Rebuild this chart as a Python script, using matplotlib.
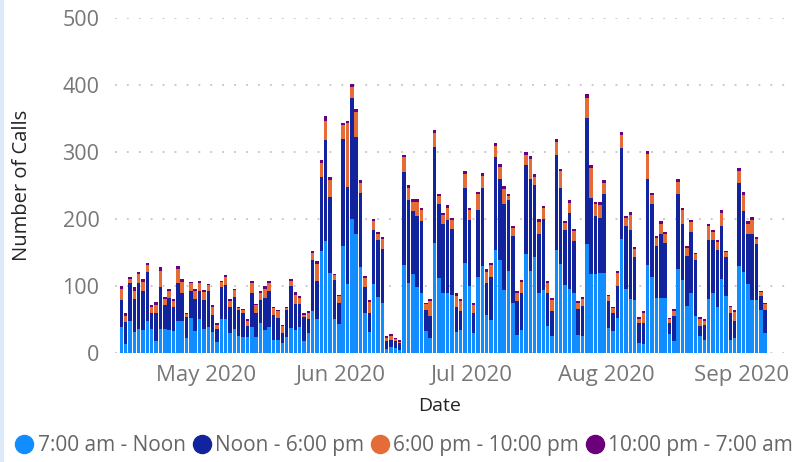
import matplotlib
matplotlib.use('Agg')
import matplotlib.pyplot as plt
import matplotlib.dates as mdates
from matplotlib.lines import Line2D
import numpy as np
import pandas as pd

plt.rcParams['font.family'] = ['Open Sans', 'DejaVu Sans']

# daily calls, 2020-04-11 .. 2020-09-06
start_date = '2020-04-11'
series_names = ['7:00 am - Noon', 'Noon - 6:00 pm', '6:00 pm - 10:00 pm', '10:00 pm - 7:00 am']
colors = ['#118DFF', '#12239E', '#E66C37', '#6B007B']

morning = [39, 13, 48, 31, 36, 34, 48, 36, 18, 36, 36, 34, 33, 48, 48, 22, 52, 33, 51, 36,
           39, 31, 16, 50, 50, 30, 36, 25, 24, 24, 39, 24, 45, 35, 39, 20, 19, 15, 24, 38,
           35, 39, 18, 30, 63, 50, 152, 167, 120, 50, 43, 160, 103, 200, 178, 128, 60, 32, 103, 84,
           75, 6, 9, 7, 5, 132, 105, 118, 99, 90, 33, 22, 164, 112, 89, 89, 87, 32, 34, 134,
           100, 30, 114, 130, 57, 49, 153, 139, 94, 122, 75, 27, 35, 148, 123, 144, 89, 94, 40, 25,
           153, 133, 102, 95, 89, 27, 25, 162, 118, 118, 119, 120, 38, 33, 52, 170, 95, 80, 79, 15,
           14, 132, 114, 82, 82, 82, 29, 18, 125, 109, 70, 90, 55, 25, 20, 80, 89, 69, 110, 85,
           20, 23, 130, 121, 103, 79, 79, 64, 30]
afternoon = [40, 33, 56, 49, 68, 58, 73, 24, 41, 62, 35, 48, 35, 57, 41, 32, 40, 47, 42, 43,
             54, 26, 20, 48, 52, 38, 47, 39, 36, 16, 50, 36, 34, 47, 54, 36, 33, 15, 40, 62,
             38, 34, 35, 20, 76, 57, 111, 151, 113, 59, 32, 160, 145, 180, 145, 111, 38, 27, 80, 84,
             80, 12, 10, 11, 10, 138, 124, 94, 105, 107, 31, 33, 144, 110, 103, 109, 98, 37, 28, 112,
             98, 29, 99, 116, 48, 65, 140, 121, 128, 106, 99, 50, 54, 133, 137, 106, 88, 106, 49, 38,
             143, 114, 82, 114, 78, 38, 45, 189, 114, 86, 83, 117, 39, 26, 48, 136, 94, 103, 65, 30,
             30, 128, 108, 77, 95, 82, 15, 37, 112, 83, 75, 90, 84, 15, 22, 88, 79, 84, 79, 59,
             39, 25, 124, 91, 75, 98, 83, 21, 34]
evening = [16, 9, 7, 13, 14, 14, 10, 9, 13, 25, 9, 10, 10, 21, 17, 4, 12, 12, 11, 12,
           8, 11, 6, 8, 12, 10, 11, 3, 4, 8, 16, 11, 11, 13, 11, 11, 10, 10, 3, 8,
           14, 9, 4, 10, 10, 26, 21, 29, 25, 7, 10, 21, 96, 17, 37, 15, 14, 17, 14, 9,
           15, 5, 7, 3, 2, 22, 18, 14, 21, 16, 9, 22, 21, 13, 14, 19, 13, 16, 16, 21,
           16, 13, 24, 18, 16, 18, 16, 18, 23, 6, 12, 12, 17, 15, 30, 13, 19, 16, 16, 16,
           19, 24, 10, 15, 15, 10, 10, 30, 44, 18, 19, 17, 8, 8, 19, 20, 12, 23, 11, 6,
           15, 37, 14, 12, 16, 13, 6, 8, 18, 21, 12, 15, 8, 11, 6, 21, 12, 13, 20, 6,
           9, 13, 18, 24, 15, 22, 8, 6, 9]
night = [5, 4, 2, 5, 3, 4, 4, 3, 4, 5, 3, 3, 3, 4, 4, 2, 2, 3, 3, 3,
         2, 3, 2, 1, 2, 2, 2, 1, 1, 2, 3, 2, 3, 5, 3, 2, 2, 2, 2, 2,
         4, 3, 2, 3, 3, 4, 4, 6, 5, 2, 2, 3, 2, 5, 4, 4, 3, 3, 3, 3,
         3, 2, 3, 2, 2, 4, 4, 4, 5, 4, 2, 3, 4, 3, 3, 4, 3, 4, 2, 4,
         3, 2, 4, 4, 4, 3, 4, 4, 4, 3, 3, 3, 3, 4, 4, 4, 4, 4, 3, 3,
         4, 4, 3, 4, 3, 3, 3, 5, 5, 4, 4, 4, 2, 2, 3, 4, 3, 4, 3, 2,
         3, 4, 3, 3, 4, 3, 2, 2, 4, 4, 3, 3, 2, 2, 2, 4, 3, 3, 4, 2,
         2, 3, 4, 4, 4, 4, 3, 2, 2]

dates = pd.date_range(start_date, periods=len(morning), freq='D')
yticks = [0, 100, 200, 300, 400, 500]
month_ticks = pd.to_datetime(['2020-05-01', '2020-06-01', '2020-07-01', '2020-08-01', '2020-09-01'])

fig = plt.figure(figsize=(8.08, 4.62), dpi=100)
ax = fig.add_axes([0.142, 0.236, 0.836, 0.725])

bottom = np.zeros(len(dates))
for vals, c in zip([morning, afternoon, evening, night], colors):
    vals = np.array(vals)
    ax.bar(dates + pd.Timedelta(hours=12), vals, width=0.8, bottom=bottom, color=c, linewidth=0)
    bottom += vals

ax.set_ylim(0, 500)
ax.set_xlim(pd.Timestamp('2020-04-10 00:00'), pd.Timestamp('2020-09-12 06:00'))
ax.set_yticks(yticks)
ax.set_xticks(month_ticks)
ax.xaxis.set_major_formatter(mdates.DateFormatter('%b %Y'))
ax.tick_params(axis='x', length=0, labelsize=16, colors='#777777', pad=9)
ax.tick_params(axis='y', length=0, labelsize=15.5, colors='#777777', pad=11)
ax.grid(axis='y', color='#c4c4c4', linestyle=(0, (1, 5.6)), linewidth=1.3)
ax.set_axisbelow(True)
for s in ax.spines.values():
    s.set_visible(False)

ax.set_ylabel('Number of Calls', fontsize=14.5, color='#252423')
ax.yaxis.set_label_coords(-0.122, 0.5)
ax.set_xlabel('Date', fontsize=14, color='#252423')
ax.xaxis.set_label_coords(0.481, -0.13)

handles = [Line2D([], [], marker='o', linestyle='', markersize=13, color=c) for c in colors]
fig.legend(handles, series_names, loc='center left', bbox_to_anchor=(0.0186, 0.036), ncol=4,
           frameon=False, fontsize=15, labelcolor='#666666', handletextpad=0.2,
           columnspacing=0.3, handlelength=0.9, borderpad=0, borderaxespad=0)

# light selection border on the left edge
fig.add_artist(Line2D([0.002, 0.002], [0, 1], color='#dbe9f8', linewidth=3, transform=fig.transFigure))

fig.savefig('out.png', dpi=100)
